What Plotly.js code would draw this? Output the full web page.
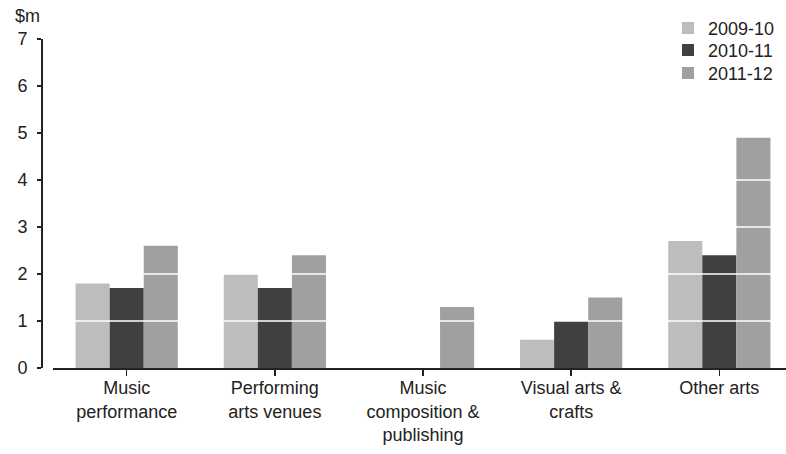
<!DOCTYPE html>
<html><head><meta charset="utf-8">
<script src="https://cdn.plot.ly/plotly-3.0.1.min.js"></script>
<style>html,body{margin:0;padding:0;background:#fff;overflow:hidden}#chart{width:786px;height:454px}</style>
</head><body><div id="chart"></div>
<script>
const categories = ['Music<br>performance','Performing<br>arts venues','Music<br>composition &<br>publishing','Visual arts &<br>crafts','Other arts'];
const seriesNames = ['2009-10','2010-11','2011-12'];
const v2009 = [1.8, 2.0, 0, 0.6, 2.7];
const v2010 = [1.7, 1.7, 0, 1.0, 2.4];
const v2011 = [2.6, 2.4, 1.3, 1.5, 4.9];
const yTicks = [0, 1, 2, 3, 4, 5, 6, 7];
const colors = ['#bdbdbd', '#404040', '#a0a0a0'];

const FONT = 'Liberation Sans, Arial, sans-serif';
const FS = 18;
const seriesValues = [v2009, v2010, v2011];
const legendIds = ['legend', 'legend2', 'legend3'];
const legendY = [1.089, 1.022, 0.952];
const traces = seriesValues.map((vals, i) => ({
  type: 'bar', x: categories, y: vals, name: seriesNames[i], legend: legendIds[i],
  marker: {color: colors[i], line: {width: 0}}, hoverinfo: 'skip'
}));
const xStart = 0.0156;
const layout = {
  width: 786, height: 454,
  margin: {l: 41, r: 0, t: 39, b: 86},
  paper_bgcolor: '#fff', plot_bgcolor: '#fff',
  font: {family: FONT, size: FS, color: '#222'},
  barmode: 'group', bargap: 0.31, bargroupgap: 0,
  showlegend: true,
  xaxis: {domain: [xStart, 1], range: [-0.5, 4.45], type: 'category', showline: true, linecolor: '#222', linewidth: 1.5,
    ticks: 'outside', ticklen: 6, tickwidth: 1.5, tickcolor: '#222', showgrid: false, zeroline: false,
    ticklabelstandoff: -3, tickfont: {size: FS, color: '#222'}},
  yaxis: {range: [0, 7], anchor: 'free', position: 0, showline: true, linecolor: '#222', linewidth: 1.5,
    ticks: 'outside', ticklen: 4, tickwidth: 1.5, tickcolor: '#222', tickvals: yTicks, ticktext: yTicks.map(String),
    ticklabelstandoff: 6, showgrid: false, zeroline: false, tickfont: {size: FS, color: '#222'}},
  shapes: yTicks.filter(t => t > 0).map(t => ({type: 'line', xref: 'paper', x0: xStart, x1: 1, yref: 'y', y0: t, y1: t,
    line: {color: '#ffffff', width: 1.5}, layer: 'above'})),
  annotations: [{text: '$m', xref: 'paper', yref: 'paper', x: -0.037, xanchor: 'left', y: 1.07, yanchor: 'middle',
    showarrow: false, font: {size: FS, color: '#222'}}]
};
legendIds.forEach((id, i) => {
  layout[id] = {x: 0.8416, xanchor: 'left', y: legendY[i], yanchor: 'top', font: {size: FS, color: '#222'},
    bgcolor: 'rgba(0,0,0,0)', borderwidth: 0};
});
Plotly.newPlot('chart', traces, layout, {staticPlot: true, displayModeBar: false});
</script></body></html>
